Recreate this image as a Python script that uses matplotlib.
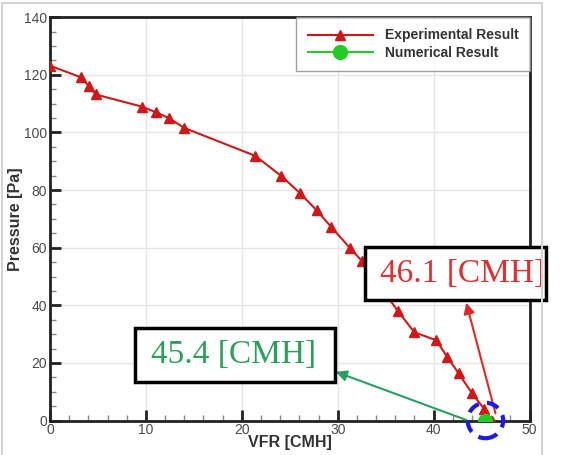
import matplotlib.pyplot as plt
from matplotlib.patches import Rectangle, Ellipse

# experimental fan curve
vfr_exp = [0.0, 3.2, 4.07, 4.77, 9.57, 11.06, 12.4, 13.99, 21.4, 24.08, 26.02,
           27.8, 29.3, 31.3, 32.5, 36.25, 38.0, 40.26, 41.4, 42.6, 43.95, 45.3, 46.1]
p_exp = [123.2, 119.2, 116.0, 113.2, 109.0, 107.0, 105.0, 101.6, 91.9, 85.0, 79.1,
         73.0, 67.3, 59.8, 55.5, 38.1, 30.6, 27.9, 22.2, 16.4, 9.7, 3.9, 0.0]

vfr_num = [45.4]
p_num = [0.0]

labels = ['Experimental Result', 'Numerical Result']
note_exp = '46.1 [CMH]'
note_num = '45.4 [CMH]'

plt.rcParams['font.family'] = ['Liberation Sans', 'DejaVu Sans']

fig = plt.figure(figsize=(5.7, 4.55), dpi=100)
ax = fig.add_axes([0.0877, 0.0758, 0.8413, 0.8862])

# faint outer frame of the screenshot
fig.add_artist(Rectangle((2 / 570, -0.05), 540 / 570, 1.05 - 3 / 455, transform=fig.transFigure,
                         fill=False, edgecolor='#d4d4d4', lw=1.5))

ax.plot(vfr_exp, p_exp, '-^', color='#d01818', lw=1.5, ms=7.5, label=labels[0], zorder=3)
ax.plot(vfr_num, p_num, '-o', color='#22cc22', lw=1.5, ms=10, label=labels[1], zorder=4)

ax.set_xlim(0, 50)
ax.set_ylim(0, 140)
ax.set_xticks(range(0, 51, 10))
ax.set_xticks(range(0, 51, 2), minor=True)
ax.set_yticks(range(0, 141, 20))
ax.set_yticks(range(0, 141, 5), minor=True)
ax.grid(True, which='major', color='#e6e6e6', lw=1)
ax.set_axisbelow(True)
ax.tick_params(which='major', direction='in', length=8, width=2, color='#222222',
               labelsize=10, labelcolor='#4a4a4a', pad=2)
ax.tick_params(which='minor', direction='in', length=4, width=1, color='#888888')
for s in ax.spines.values():
    s.set_linewidth(2)
    s.set_color('#222222')

ax.set_xlabel('VFR [CMH]', fontsize=11.5, fontweight='bold', color='#333333', labelpad=-2)
ax.set_ylabel('Pressure [Pa]', fontsize=11.5, fontweight='bold', color='#333333', labelpad=1)

leg = ax.legend(loc='upper right', bbox_to_anchor=(1, 1), borderaxespad=0, fancybox=False,
                frameon=True, handlelength=4.7, handletextpad=0.85, labelspacing=0.27,
                borderpad=0.8, prop={'weight': 'bold', 'size': 10})
leg.get_frame().set_edgecolor('#888888')
leg.get_frame().set_linewidth(1)
for t in leg.get_texts():
    t.set_color('#333333')

# callout boxes
ax.add_patch(Rectangle((32.8, 41.8), 18.9, 18.3, facecolor='white', edgecolor='black',
                       lw=2.5, clip_on=False, zorder=6))
ax.text(34.4, 51.0, note_exp, color='#e03030', fontsize=24, family='Liberation Serif',
        ha='left', va='center', zorder=7, clip_on=False)
ax.add_patch(Rectangle((8.87, 13.5), 20.83, 18.5, facecolor='white', edgecolor='black',
                       lw=2.5, clip_on=False, zorder=6))
ax.text(10.5, 22.7, note_num, color='#2ca05a', fontsize=24, family='Liberation Serif',
        ha='left', va='center', zorder=7, clip_on=False)

# arrows
ax.annotate('', xy=(43.4, 40.9), xytext=(46.45, 2.5),
            arrowprops=dict(arrowstyle='-|>', color='#e02828', lw=1.5, mutation_scale=16,
                            shrinkA=0, shrinkB=0), zorder=5)
ax.annotate('', xy=(29.8, 16.9), xytext=(43.4, 0.2),
            arrowprops=dict(arrowstyle='-|>', color='#28a060', lw=1.5, mutation_scale=16,
                            shrinkA=0, shrinkB=0), zorder=5)

# dashed circle round the operating point
ax.add_patch(Ellipse((vfr_num[0], p_num[0]), 3.7, 12.3, fill=False, edgecolor='#1a1aee',
                     lw=3, ls=(0, (3, 2)), clip_on=False, zorder=8))

fig.savefig('out.png', dpi=100)
